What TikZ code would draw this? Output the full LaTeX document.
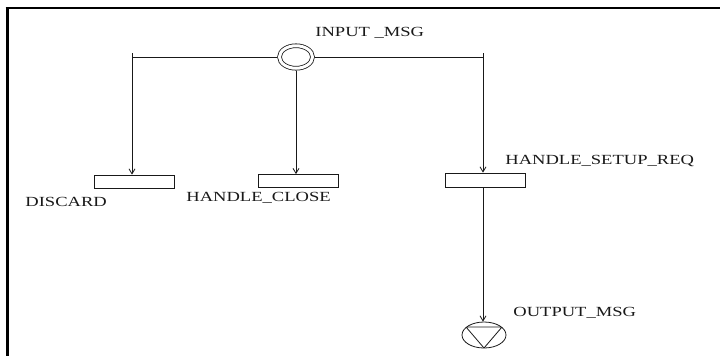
\documentclass[tikz,border=0pt]{standalone}
\usepackage{fontspec}
\setmainfont{Liberation Serif}[FakeStretch=1.33]
\usetikzlibrary{arrows.meta, positioning, shapes.geometric}

\begin{document}
\begin{tikzpicture}[x=1bp, y=-1bp, line width=0.8bp, black!90,
    state/.style={draw, rectangle, minimum width=80bp, minimum height=13bp, inner sep=0pt},
    lbl/.style={anchor=west, inner sep=0pt, font=\fontsize{14}{16}\selectfont},
    flow/.style={-{Straight Barb[length=5bp, width=6bp]}}]
  \useasboundingbox (0,0) rectangle (720,356);
  \draw[black, line width=2bp] (5.5,8) -- (720,8);
  \draw[black, line width=3bp] (7,7) -- (7,356);

  \node[draw, ellipse, double, double distance=3bp, minimum width=33bp, minimum height=22.5bp,
        inner sep=0pt, outer sep=2.3bp] (input) at (296,57) {};
  \node[lbl] (inputlbl) at (315,33) {INPUT \_MSG};

  \node[state] (discard) at (134,181.5) {};
  \node[state] (close) at (298,181) {};
  \node[state, minimum height=14bp] (setup) at (485.5,180) {};
  \node[lbl] (discardlbl) at (25,202) {DISCARD};
  \node[lbl] (closelbl) at (186,198) {HANDLE\_CLOSE};
  \node[lbl] (setuplbl) at (505,161) {HANDLE\_SETUP\_REQ};

  \node[draw, ellipse, minimum width=44bp, minimum height=26bp, inner sep=0pt,
        path picture={\draw ([xshift=-18bp, yshift=8bp]path picture bounding box.center)
          -- ([xshift=18bp, yshift=8bp]path picture bounding box.center)
          -- (path picture bounding box.south) -- cycle;}] (output) at (484,335) {};
  \node[lbl] (outputlbl) at (513,313) {OUTPUT\_MSG};

  \coordinate (lt) at (132,53);
  \coordinate (rt) at (483,53);
  \draw (input.west) -- (input.west -| lt);
  \draw (input.east) -- (input.east -| rt);
  \draw[flow] (lt) -- (lt |- discard.north);
  \draw[flow] (input.south) -- (input.south |- close.north);
  \draw[flow] (rt) -- (rt |- setup.north);
  \draw[flow] (rt |- setup.south) -- (rt |- output.north);
\end{tikzpicture}
\end{document}
